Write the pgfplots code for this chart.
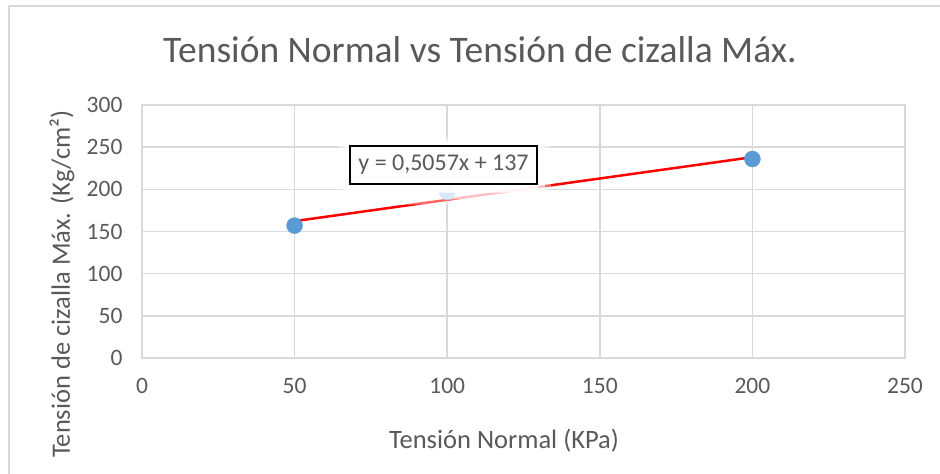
\documentclass[border=0pt]{standalone}
\usepackage{fontspec}
\setmainfont{Carlito}
\usepackage{pgfplots}
\pgfplotsset{compat=1.18}
\definecolor{txt}{HTML}{595959}
\definecolor{grd}{HTML}{D9D9D9}
\definecolor{pt}{HTML}{5B9BD5}
\begin{document}
\begin{tikzpicture}[x=1pt,y=1pt]
\useasboundingbox (0,0) rectangle (940,474);
\draw[grd, line width=1.5pt] (9,0) -- (9,468) -- (940,468);
\node[txt, font=\fontsize{37.5}{44}\selectfont] at (480,424) {Tensión Normal vs Tensión de cizalla Máx.};
\node[txt, font=\fontsize{26.5}{32}\selectfont] at (504,33) {Tensión Normal (KPa)};
\node[txt, rotate=90, font=\fontsize{26.5}{32}\selectfont] at (62,190) {Tensión de cizalla Máx. (Kg/cm²)};
\begin{axis}[at={(142pt,116pt)}, anchor=south west, scale only axis,
  width=763pt, height=253pt,
  xmin=0, xmax=250, ymin=0, ymax=300,
  xtick={0,50,...,250}, ytick={0,50,...,300},
  grid=major, grid style={grd, line width=1.5pt},
  axis line style={grd, line width=1.5pt},
  major tick length=0pt,
  tick label style={txt, font=\fontsize{23.5}{28}\selectfont},
  /pgf/number format/assume math mode=true,
  xticklabel style={yshift=-17pt},
  yticklabel style={xshift=-16pt},
  clip=false]
\addplot[only marks, mark=*, mark size=8pt, mark options={fill=pt, draw=pt}] coordinates {(50,157) (100,197) (200,236)};
\addplot[red, line width=2.5pt] coordinates {(50,162.285) (200,238.14)};
\coordinate (a1) at (axis cs:64,262); \coordinate (b1) at (axis cs:134,182);
\coordinate (a2) at (axis cs:66,259); \coordinate (b2) at (axis cs:132,188);
\coordinate (a3) at (axis cs:68,256); \coordinate (b3) at (axis cs:130,196);
\coordinate (lbl) at (axis cs:98.8,228.9);
\end{axis}
\fill[white, opacity=0.4, rounded corners=12pt] (a1) rectangle (b1);
\fill[white, opacity=0.6, rounded corners=10pt] (a2) rectangle (b2);
\fill[white, opacity=0.85, rounded corners=8pt] (a3) rectangle (b3);
\node[draw=black, line width=1.5pt, fill=white, text=txt, inner xsep=6pt, inner ysep=6pt, minimum width=187pt, minimum height=38pt, font=\fontsize{24}{28}\selectfont] at (lbl) {y = 0,5057x + 137};
\end{tikzpicture}
\end{document}
